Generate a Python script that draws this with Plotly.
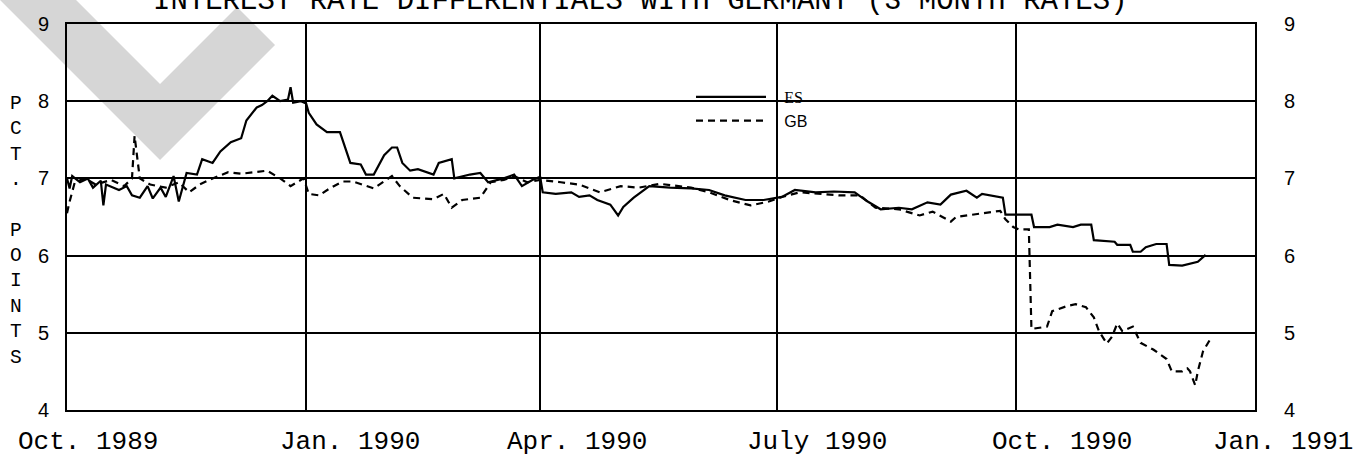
import pandas as pd
import plotly.graph_objects as go

# ---------------- data ----------------
base_date = "1989-10-01"

es_day = [0, 1, 2, 5, 8, 10, 13, 14, 15, 18, 20, 23, 25, 28, 31, 33, 36, 38, 41, 43,
          45, 46, 50, 52, 56, 59, 63, 67, 69, 73, 75, 77, 79, 82, 85, 86, 87, 90, 92, 93,
          96, 100, 105, 108, 109, 113, 115, 118, 122, 125, 127, 129, 132, 135, 141, 143, 148, 149, 155, 159,
          162, 168, 172, 175, 179, 182, 183, 188, 194, 197, 201, 204, 209, 212, 214, 218, 224, 232, 240, 247,
          253, 261, 268, 275, 280, 288, 295, 303, 308, 313, 320, 325, 331, 336, 340, 346, 350, 352, 359, 360,
          361, 371, 372, 378, 381, 387, 390, 394, 395, 403, 404, 409, 410, 413, 415, 419, 423, 424, 429, 435,
          438]
es_val = [7.00, 6.87, 7.03, 6.95, 7.00, 6.88, 6.97, 6.65, 6.92, 6.88, 6.85, 6.90, 6.78, 6.75, 6.90, 6.74, 6.88, 6.76, 7.03, 6.70,
          6.95, 7.07, 7.05, 7.25, 7.20, 7.35, 7.47, 7.52, 7.75, 7.92, 7.95, 8.00, 8.07, 8.00, 8.02, 8.18, 7.98, 8.00, 7.97, 7.85,
          7.70, 7.60, 7.60, 7.30, 7.20, 7.18, 7.05, 7.05, 7.30, 7.40, 7.40, 7.20, 7.10, 7.12, 7.05, 7.20, 7.25, 7.00, 7.05, 7.07,
          6.95, 7.00, 7.05, 6.90, 6.98, 7.02, 6.82, 6.80, 6.82, 6.76, 6.78, 6.72, 6.66, 6.52, 6.63, 6.75, 6.90, 6.88, 6.87, 6.85,
          6.78, 6.72, 6.72, 6.76, 6.85, 6.82, 6.83, 6.82, 6.70, 6.60, 6.62, 6.60, 6.69, 6.66, 6.79, 6.84, 6.75, 6.80, 6.75, 6.75,
          6.53, 6.53, 6.37, 6.37, 6.40, 6.37, 6.40, 6.40, 6.20, 6.18, 6.14, 6.14, 6.05, 6.05, 6.11, 6.15, 6.15, 5.88, 5.87, 5.92,
          6.01]

gb_day = [0, 1, 3, 7, 11, 17, 22, 25, 26, 28, 32, 38, 43, 47, 51, 56, 62, 67, 72, 77,
          82, 86, 91, 93, 97, 101, 106, 110, 118, 125, 128, 133, 141, 145, 148, 152, 159, 163, 168, 172,
          177, 182, 190, 197, 205, 213, 220, 228, 240, 247, 255, 263, 270, 275, 282, 290, 297, 305, 311, 320,
          328, 333, 337, 340, 342, 348, 354, 359, 361, 364, 366, 370, 371, 374, 377, 379, 385, 388, 392, 395,
          397, 400, 402, 404, 406, 410, 413, 418, 423, 425, 429, 431, 432, 434, 435, 437, 440]
gb_val = [6.55, 6.70, 6.95, 7.00, 6.92, 6.98, 6.90, 7.00, 7.55, 7.00, 6.92, 6.88, 6.95, 6.82, 6.92, 7.00, 7.08, 7.06, 7.08, 7.10,
          7.00, 6.90, 7.00, 6.80, 6.78, 6.87, 6.96, 6.96, 6.87, 7.03, 6.90, 6.75, 6.73, 6.80, 6.62, 6.72, 6.75, 6.95, 6.98, 7.03,
          6.95, 6.98, 6.95, 6.92, 6.82, 6.90, 6.88, 6.93, 6.88, 6.82, 6.72, 6.65, 6.70, 6.76, 6.82, 6.80, 6.78, 6.78, 6.62, 6.60,
          6.52, 6.57, 6.50, 6.44, 6.50, 6.53, 6.56, 6.58, 6.47, 6.37, 6.34, 6.34, 5.05, 5.07, 5.08, 5.28, 5.35, 5.37, 5.33, 5.20,
          5.02, 4.86, 4.95, 5.12, 5.02, 5.08, 4.87, 4.78, 4.66, 4.50, 4.50, 4.54, 4.50, 4.32, 4.50, 4.76, 4.93]

quarter_ticks = ["1989-10-01", "1990-01-01", "1990-04-01", "1990-07-01", "1990-10-01", "1991-01-01"]
quarter_labels = ["Oct. 1989", "Jan. 1990", "Apr. 1990", "July 1990", "Oct. 1990", "Jan. 1991"]
y_ticks = [4, 5, 6, 7, 8, 9]

title_text = "INTEREST RATE DIFFERENTIALS WITH GERMANY (3 MONTH RATES)"
y_title_letters = ["P", "C", "T", ".", " ", "P", "O", "I", "N", "T", "S"]

# ---------------- figure ----------------
W, H = 1365, 464
ML, MR, MT, MB = 67, 110, 24, 54
PW, PH = W - ML - MR, H - MT - MB


def px(x):
    return (x - ML) / PW


def py(y):
    return (H - MB - y) / PH


es_dates = pd.Timestamp(base_date) + pd.to_timedelta(es_day, unit="D")
gb_dates = pd.Timestamp(base_date) + pd.to_timedelta(gb_day, unit="D")

gap = "\u00a0\u00a0\u00a0"
fig = go.Figure()
fig.add_trace(go.Scatter(x=es_dates, y=es_val, mode="lines",
                         name=gap + "<span style='font-family:Liberation Serif'>ES</span>",
                         legendgroup="es", line=dict(color="black", width=2.2)))
fig.add_trace(go.Scatter(x=gb_dates, y=gb_val, mode="lines", name=gap + "GB", legendgroup="gb",
                         line=dict(color="black", width=2.2, dash="7px,5px")))
# invisible trace to carry the right-hand axis
fig.add_trace(go.Scatter(x=es_dates, y=es_val, yaxis="y2", mode="lines", showlegend=False,
                         hoverinfo="skip", line=dict(color="rgba(0,0,0,0)", width=0)))

# watermark (decorative)
wm = [(0, 0), (76, 0), (160, 84), (237, 7), (275, 45), (160, 160)]
path = "M " + " L ".join(f"{px(a):.4f},{py(b):.4f}" for a, b in wm) + " Z"
fig.add_shape(type="path", path=path, xref="paper", yref="paper",
              fillcolor="#d6d6d6", line=dict(width=0), layer="below")

fig.add_annotation(text=title_text, xref="paper", yref="paper", x=px(640), y=py(1),
                   xanchor="center", yanchor="middle", showarrow=False,
                   font=dict(family="Liberation Mono", size=29, color="black"))
fig.add_annotation(text="<br>".join(y_title_letters), xref="paper", yref="paper",
                   x=px(16), y=py(231), xanchor="center", yanchor="middle", showarrow=False,
                   font=dict(family="Liberation Mono", size=19.5, color="black"))

# x tick labels, typed slightly to the right of each quarter line as in the original
label_shift = [21, 44, 37, 40, 46, 28]
for tv, tt, sh in zip(quarter_ticks, quarter_labels, label_shift):
    fig.add_annotation(text=tt, x=tv, xref="x", y=py(442), yref="paper",
                       xanchor="center", yanchor="middle", xshift=sh, showarrow=False,
                       font=dict(family="Liberation Mono", size=26, color="black"))

fig.update_layout(
    width=W, height=H,
    margin=dict(l=ML, r=MR, t=MT, b=MB, autoexpand=False),
    paper_bgcolor="white", plot_bgcolor="rgba(0,0,0,0)",
    showlegend=True,
    legend=dict(x=px(691), y=py(80), xanchor="left", yanchor="top",
                bgcolor="rgba(0,0,0,0)", itemwidth=70, tracegroupgap=0,
                font=dict(family="Liberation Sans", size=16, color="black")),
    xaxis=dict(type="date", range=["1989-10-01", "1991-01-01"], automargin=False,
               tickvals=quarter_ticks, showticklabels=False, ticks="",
               showgrid=True, gridcolor="black", gridwidth=1.5,
               showline=True, linecolor="black", linewidth=2, mirror=True,
               zeroline=False),
    yaxis=dict(range=[4, 9], tickvals=y_ticks, ticks="", ticklabelstandoff=12, automargin=False,
               showgrid=True, gridcolor="black", gridwidth=1.5,
               showline=True, linecolor="black", linewidth=2, mirror=True,
               zeroline=False,
               tickfont=dict(family="Liberation Sans", size=20, color="black")),
    yaxis2=dict(range=[4, 9], tickvals=y_ticks, overlaying="y", side="right", automargin=False,
                ticks="", ticklabelstandoff=28, showgrid=False, zeroline=False,
                tickfont=dict(family="Liberation Sans", size=20, color="black")),
)

fig.write_html("out.html", config={"displayModeBar": False},
               post_script="document.body.style.margin='0';document.body.style.overflow='hidden';")
